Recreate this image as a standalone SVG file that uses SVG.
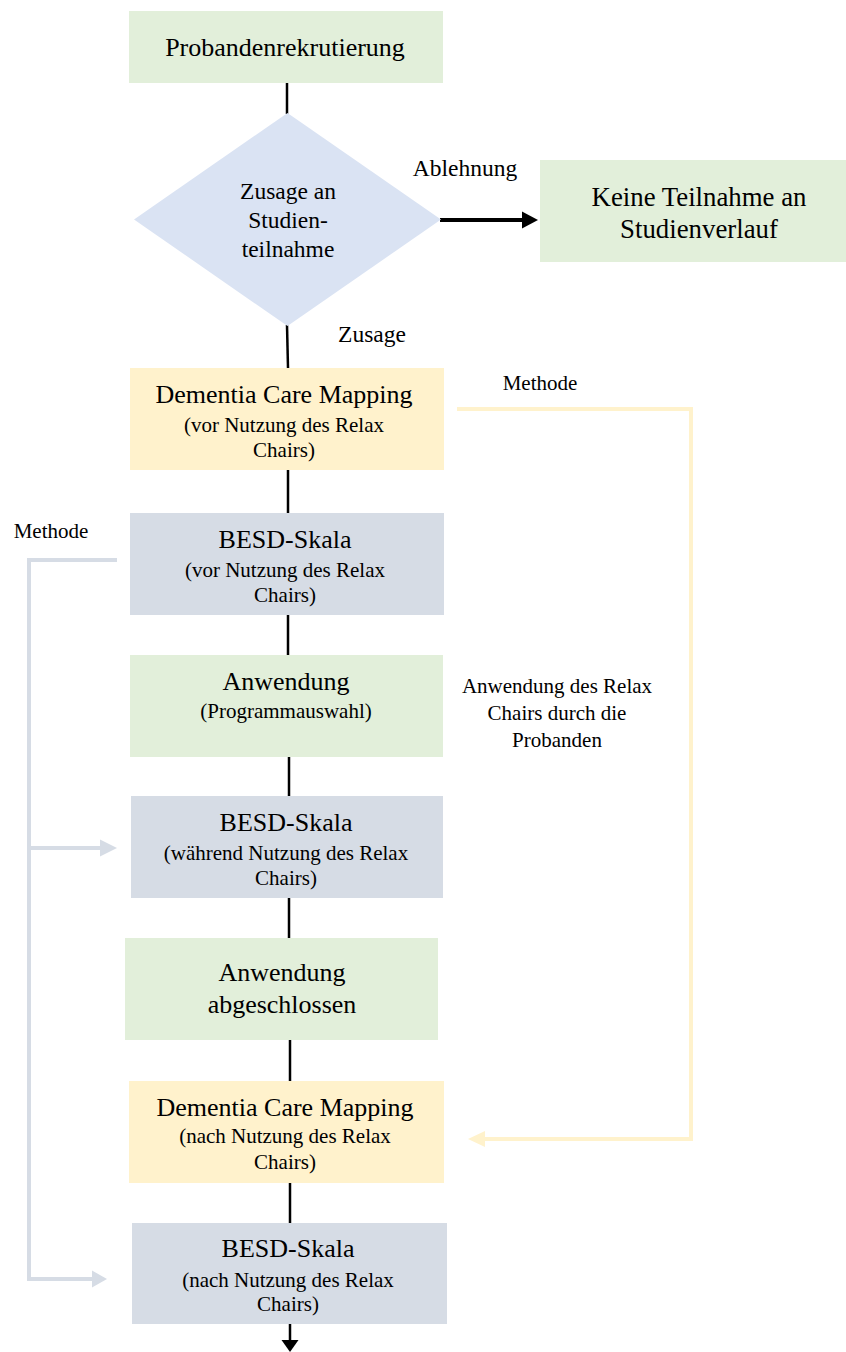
<svg xmlns="http://www.w3.org/2000/svg" width="846" height="1352" viewBox="0 0 846 1352">
  <style>
    text { font-family: "Liberation Serif", "Times New Roman", serif; fill: #000; text-anchor: middle; }
    .t { font-size: 26px; }
    .d { font-size: 23.5px; }
    .s { font-size: 21px; }
    .lbl { font-size: 23.5px; }
    .note { font-size: 21px; }
    .green { fill: #E2EFDA; }
    .yellow { fill: #FFF2CC; }
    .grey { fill: #D6DCE5; }
    .blue { fill: #DAE3F3; }
    .flow { stroke: #000; stroke-width: 2.5; fill: none; }
    .ymeth { stroke: #FFF2CC; stroke-width: 4; fill: none; }
    .gmeth { stroke: #D6DCE5; stroke-width: 4; fill: none; }
  </style>

  <rect width="846" height="1352" fill="#fff"/>

  <!-- connectors -->
  <g id="connectors">
    <line class="flow" x1="287" y1="83" x2="287" y2="114"/>
    <line class="flow" x1="287" y1="325" x2="288" y2="368"/>
    <line class="flow" x1="288" y1="470" x2="288" y2="513"/>
    <line class="flow" x1="288" y1="615" x2="288" y2="655"/>
    <line class="flow" x1="289" y1="757" x2="289" y2="796"/>
    <line class="flow" x1="289" y1="898" x2="289" y2="938"/>
    <line class="flow" x1="290" y1="1040" x2="290" y2="1081"/>
    <line class="flow" x1="290" y1="1183" x2="290" y2="1223"/>
    <!-- exit arrow at the bottom -->
    <line class="flow" x1="290" y1="1324" x2="290" y2="1342"/>
    <path d="M281.5,1340 L298.5,1340 L290,1352 z" fill="#000"/>
    <!-- refusal branch -->
    <line x1="440" y1="220" x2="524" y2="220" stroke="#000" stroke-width="4"/>
    <path d="M522,211.5 L538,220 L522,228.5 z" fill="#000"/>
    <!-- DCM method link -->
    <polyline class="ymeth" points="457,409 691,409 691,1139 484,1139"/>
    <path d="M485,1131 L468,1139 L485,1147 z" fill="#FFF2CC"/>
    <!-- BESD method links -->
    <polyline class="gmeth" points="117,560 29,560 29,1279 93,1279"/>
    <path d="M92,1270.5 L107,1279 L92,1287.5 z" fill="#D6DCE5"/>
    <line class="gmeth" x1="29" y1="848" x2="101" y2="848"/>
    <path d="M100,839.5 L117,848 L100,856.5 z" fill="#D6DCE5"/>
  </g>

  <!-- edge labels -->
  <g id="labels">
    <text class="lbl" x="465" y="176">Ablehnung</text>
    <text class="lbl" x="372" y="342">Zusage</text>
    <text class="note" x="540" y="390">Methode</text>
    <text class="note" x="51" y="538">Methode</text>
    <text class="note" x="557" y="693">Anwendung des Relax</text>
    <text class="note" x="557" y="720">Chairs durch die</text>
    <text class="note" x="557" y="747">Probanden</text>
  </g>

  <g id="recruit">
    <rect class="green" x="129" y="11" width="314" height="72"/>
    <text class="t" x="285" y="56">Probandenrekrutierung</text>
  </g>

  <g id="decision">
    <polygon class="blue" points="287.5,113 441,219.5 287.5,326 134,219.5"/>
    <text class="d" x="288" y="199">Zusage an</text>
    <text class="d" x="288" y="228">Studien-</text>
    <text class="d" x="288" y="257">teilnahme</text>
  </g>

  <g id="no-participation">
    <rect class="green" x="540" y="160" width="306" height="102"/>
    <text class="t" x="699" y="206" style="font-size:26.8px">Keine Teilnahme an</text>
    <text class="t" x="699" y="238" style="font-size:26.8px">Studienverlauf</text>
  </g>

  <g id="dcm-before">
    <rect class="yellow" x="130" y="368" width="314" height="102"/>
    <text class="t" x="284" y="403">Dementia Care Mapping</text>
    <text class="s" x="284" y="432">(vor Nutzung des Relax</text>
    <text class="s" x="284" y="457">Chairs)</text>
  </g>

  <g id="besd-before">
    <rect class="grey" x="130" y="513" width="314" height="102"/>
    <text class="t" x="285" y="548">BESD-Skala</text>
    <text class="s" x="285" y="577">(vor Nutzung des Relax</text>
    <text class="s" x="285" y="602">Chairs)</text>
  </g>

  <g id="application">
    <rect class="green" x="130" y="655" width="313" height="102"/>
    <text class="t" x="286" y="690">Anwendung</text>
    <text class="s" x="286" y="718">(Programmauswahl)</text>
  </g>

  <g id="besd-during">
    <rect class="grey" x="131" y="796" width="312" height="102"/>
    <text class="t" x="286" y="831">BESD-Skala</text>
    <text class="s" x="286" y="860">(während Nutzung des Relax</text>
    <text class="s" x="286" y="885">Chairs)</text>
  </g>

  <g id="application-done">
    <rect class="green" x="125" y="938" width="313" height="102"/>
    <text class="t" x="282" y="981">Anwendung</text>
    <text class="t" x="282" y="1013">abgeschlossen</text>
  </g>

  <g id="dcm-after">
    <rect class="yellow" x="129" y="1081" width="315" height="102"/>
    <text class="t" x="285" y="1116">Dementia Care Mapping</text>
    <text class="s" x="285" y="1143">(nach Nutzung des Relax</text>
    <text class="s" x="285" y="1169">Chairs)</text>
  </g>

  <g id="besd-after">
    <rect class="grey" x="132" y="1223" width="315" height="101"/>
    <text class="t" x="288" y="1257">BESD-Skala</text>
    <text class="s" x="288" y="1287">(nach Nutzung des Relax</text>
    <text class="s" x="288" y="1311">Chairs)</text>
  </g>
</svg>
